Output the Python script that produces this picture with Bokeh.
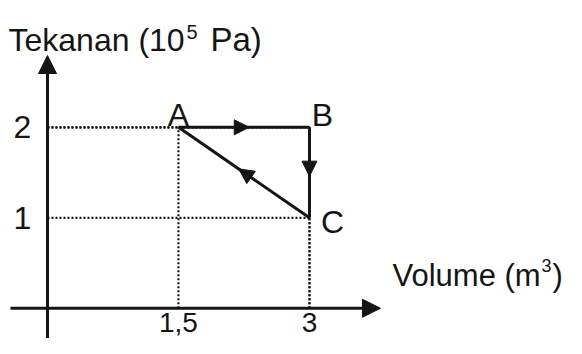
from bokeh.plotting import figure
from bokeh.models import Arrow, NormalHead, Label, ColumnDataSource
from bokeh.embed import file_html
from bokeh.resources import INLINE
from bokeh.core.properties import value

# ---- data ----
point_names = ["A", "B", "C"]
volume = [1.5, 3, 3]          # m^3
pressure = [2, 2, 1]          # 10^5 Pa
x_ticks = [1.5, 3]
x_tick_labels = ["1,5", "3"]
y_ticks = [2, 1]
y_tick_labels = ["2", "1"]

INK = "#151515"
FONT = "Liberation Sans"
FS = "32px"

p = figure(width=566, height=338, output_backend="svg", toolbar_location=None,
           x_range=(-0.538, 5.943), y_range=(-0.334, 3.401),
           min_border=0, outline_line_color=None)
p.axis.visible = False
p.grid.visible = False
p.background_fill_color = "white"

# axes with arrowheads
p.add_layout(Arrow(end=NormalHead(size=18, fill_color=INK, line_color=INK),
                   x_start=-0.424, y_start=0, x_end=3.813, y_end=0,
                   line_width=3, line_color=INK))
p.add_layout(Arrow(end=NormalHead(size=18, fill_color=INK, line_color=INK),
                   x_start=0, y_start=-0.4, x_end=0, y_end=2.793,
                   line_width=3, line_color=INK))

# dotted guides
for xv, yv in zip(volume, pressure):
    p.line([0, xv], [yv, yv], line_color=INK, line_width=2.2, line_dash="2 2")
    p.line([xv, xv], [0, yv], line_color=INK, line_width=2.2, line_dash="2 2")

# cycle A -> B -> C -> A
n = len(volume)
for i in range(n):
    x0, y0 = volume[i], pressure[i]
    x1, y1 = volume[(i + 1) % n], pressure[(i + 1) % n]
    p.line([x0, x1], [y0, y1], line_color=INK, line_width=3)
    f = 0.54
    p.add_layout(Arrow(end=NormalHead(size=15, fill_color=INK, line_color=INK),
                       x_start=x0, y_start=y0,
                       x_end=x0 + f * (x1 - x0), y_end=y0 + f * (y1 - y0),
                       line_width=0, line_alpha=0))

# point labels
lab_src = ColumnDataSource(dict(x=volume, y=pressure, t=point_names,
                                dx=[0, 13, 23], dy=[-12, -12, 4],
                                bl=["alphabetic", "alphabetic", "middle"]))
p.text(x="x", y="y", text="t", source=lab_src, x_offset="dx", y_offset="dy",
       text_align="center", text_baseline="bl",
       text_font=value(FONT), text_font_size=FS, text_color=INK)

# tick labels
p.text(x=x_ticks, y=[0] * len(x_ticks), text=x_tick_labels, y_offset=5,
       text_align="center", text_baseline="top",
       text_font=value(FONT), text_font_size="28px", text_color=INK)
p.text(x=[0] * len(y_ticks), y=y_ticks, text=y_tick_labels, x_offset=-25,
       text_align="center", text_baseline="middle",
       text_font=value(FONT), text_font_size=FS, text_color=INK)

# axis titles (screen units)
def lab(x, y, t, size):
    p.add_layout(Label(x=x, y=y, x_units="screen", y_units="screen", text=t,
                       text_font=FONT, text_font_size=size, text_color=INK,
                       text_baseline="alphabetic", text_align="left"))

lab(8, 299, "Tekanan (10", FS)
lab(186, 307, "5", "20px")
lab(210, 299, "Pa)", "33px")
lab(392, 63, "Volume (m", "31px")
lab(541, 73, "3", "18px")
lab(552, 63, ")", "31px")

open("out.html", "w").write(file_html(p, INLINE))
